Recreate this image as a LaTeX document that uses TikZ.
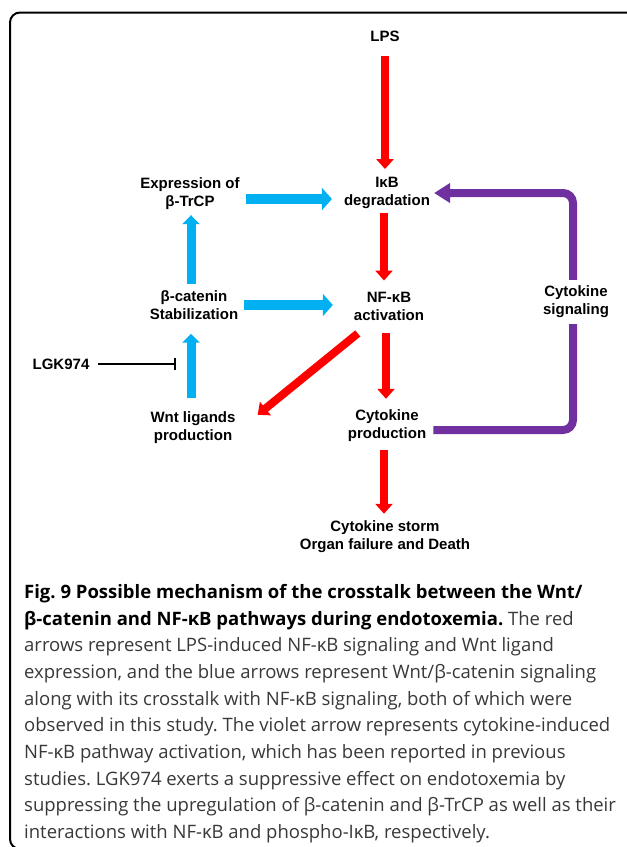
\documentclass[tikz,border=0pt]{standalone}
\usepackage{fontspec}
\setmainfont{Liberation Sans}
\newfontfamily\capfont{Open Sans}
\usetikzlibrary{arrows.meta}
\definecolor{redarr}{RGB}{255,0,0}
\definecolor{bluearr}{RGB}{0,176,240}
\definecolor{violetarr}{RGB}{112,48,160}
\frenchspacing
\begin{document}
\begin{tikzpicture}[x=1pt,y=-1pt,
	lbl/.style={inner sep=0pt,align=center,font=\fontsize{15}{18}\selectfont\bfseries},
	redarrow/.style={draw=redarr,line width=8pt,-{Triangle[width=17pt,length=10pt]}},
	bluearrow/.style={draw=bluearr,line width=9pt,-{Triangle[width=17pt,length=9pt]}},
	bluewide/.style={draw=bluearr,line width=10pt,-{Triangle[width=22pt,length=10pt]}},
	violetline/.style={draw=violetarr,line width=8pt,rounded corners=10pt}]
		\useasboundingbox (0,0) rectangle (627,847);
		\draw[line width=2pt,rounded corners=10pt] (30,849)--(10,849)--(10,12.5)--(640,12.5);
		\node[lbl] (lps) at (385,36) {LPS};
		\node[lbl] (trcp) at (190,194) {Expression of\\β-TrCP};
		\node[lbl] (ikb) at (387,193) {IκB\\degradation};
		\node[lbl] (bcat) at (194,305) {β-catenin\\Stabilization};
		\node[lbl] (nfkb) at (389,306) {NF-κB\\activation};
		\node[lbl] (cytsig) at (576,302) {Cytokine\\signaling};
		\node[lbl] (lgk) at (61,364) {LGK974};
		\node[lbl] (wnt) at (193,428) {Wnt ligands\\production};
		\node[lbl] (cytprod) at (387,426) {Cytokine\\production};
		\node[lbl] (storm) at (385,537) {Cytokine storm\\Organ failure and Death};
		\draw[redarrow,shorten <=14pt,shorten >=8pt] (lps.south)--(lps.south|-ikb.north);
		\draw[redarrow,shorten <=4pt,shorten >=11pt] ([xshift=-3pt]ikb.south)--([xshift=-3pt]ikb.south|-nfkb.north);
		\draw[redarrow,shorten <=13pt,shorten >=11pt] ([xshift=-3pt]nfkb.south)--([xshift=-3pt]nfkb.south|-cytprod.north);
		\draw[redarrow,shorten <=8pt,shorten >=7pt] ([xshift=-3pt]cytprod.south)--([xshift=-3pt]cytprod.south|-storm.north);
		\draw[redarrow] ([shift={(4,13)}]nfkb.south west)--([shift={(22,3)}]wnt.north east);
		\draw[bluewide,shorten <=6pt,shorten >=12pt] ([yshift=-5pt]trcp.east)--([yshift=-5pt]trcp.east-|ikb.west);
		\draw[bluewide,shorten <=6pt,shorten >=21pt] (bcat.east)--(bcat.east-|nfkb.west);
		\draw[bluearrow,shorten <=6pt,shorten >=5pt] ([xshift=-3pt]bcat.north)--([xshift=-3pt]bcat.north|-trcp.south);
		\draw[bluearrow,shorten <=14pt,shorten >=14pt] ([xshift=-2pt]wnt.north)--([xshift=-2pt]wnt.north|-bcat.south);
		\draw[line width=1.3pt,shorten <=8pt,-{Bar[width=12pt,line width=1.6pt]}] (lgk.east)--([xshift=-17pt]lgk.east-|wnt.north);
		\draw[violetline,shorten <=7pt,shorten >=6pt] ([yshift=-4pt]cytprod.east)-|([xshift=-3pt]cytsig.south);
		\draw[violetline,shorten <=6pt,shorten >=4pt,-{Triangle[width=19pt,length=16pt]}] ([xshift=-3pt]cytsig.north)|-(ikb.east);
		\node[anchor=north west,inner sep=0pt,align=left,text=black!78,
			font=\capfont\fontsize{18.5}{26.7}\selectfont] (caption) at (24,584)
			{\textcolor{black}{\bfseries Fig. 9 Possible mechanism of the crosstalk between the Wnt/}\\
			\textcolor{black}{\bfseries β-catenin and NF-κB pathways during endotoxemia.} The red\\
			arrows represent LPS-induced NF-κB signaling and Wnt ligand\\
			expression, and the blue arrows represent Wnt/β-catenin signaling\\
			along with its crosstalk with NF-κB signaling, both of which were\\
			observed in this study. The violet arrow represents cytokine-induced\\
			NF-κB pathway activation, which has been reported in previous\\
			studies. LGK974 exerts a suppressive effect on endotoxemia by\\
			suppressing the upregulation of β-catenin and β-TrCP as well as their\\
			interactions with NF-κB and phospho-IκB, respectively.};
	\end{tikzpicture}
\end{document}
